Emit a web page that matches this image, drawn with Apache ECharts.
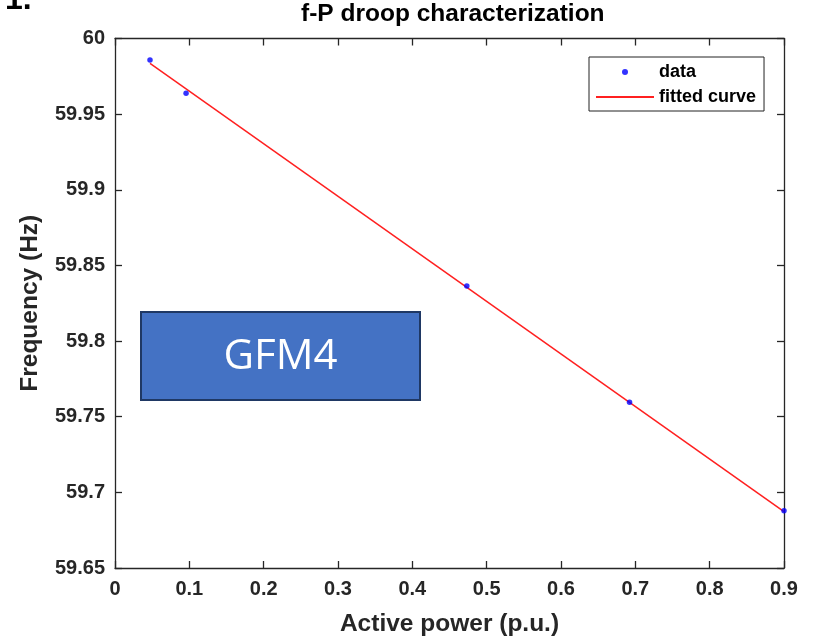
<!DOCTYPE html>
<html>
<head>
<meta charset="utf-8">
<script src="https://cdn.jsdelivr.net/npm/echarts@6/dist/echarts.min.js"></script>
<style>
html,body{margin:0;padding:0;background:#fff;}
#c{width:818px;height:637px;}
</style>
</head>
<body>
<div id="c"></div>
<script>
// Data
const dataX = [0.0471, 0.0956, 0.4733, 0.6922, 0.9];
const dataY = [59.9858, 59.9638, 59.8364, 59.7596, 59.6879];
const fitX = [0.0471, 0.9];
const fitY = [59.9835, 59.6873];
const xTicks = {min: 0, max: 0.9, interval: 0.1};
const yTicks = {min: 59.65, max: 60, interval: 0.05};
const titleText = 'f-P droop characterization';
const xName = 'Active power (p.u.)';
const yName = 'Frequency (Hz)';
const boxLabel = 'GFM4';

const FONT = '"Liberation Sans", Arial, sans-serif';
const AX = '#262626';
const fmt = v => String(+v.toFixed(2));

const chart = echarts.init(document.getElementById('c'), null, {renderer: 'canvas'});
const axisCommon = {
  axisLine: {show: true, onZero: false, lineStyle: {color: AX, width: 1.3}},
  axisTick: {show: true, inside: true, length: 7, lineStyle: {color: AX, width: 1.3}},
  splitLine: {show: false}
};
chart.setOption({
  backgroundColor: '#fff',
  animation: false,
  title: {
    text: titleText, left: 296, top: -3,
    textStyle: {fontFamily: FONT, fontWeight: 'bold', fontSize: 24.5, color: '#000'}
  },
  legend: {
    orient: 'vertical', left: 589, top: 57,
    padding: [6, 8, 5, 6], itemGap: 7,
    itemWidth: 58, itemHeight: 6,
    borderColor: '#222', borderWidth: 1, backgroundColor: '#fff',
    textStyle: {fontFamily: FONT, fontWeight: 'bold', fontSize: 18, color: '#000'},
    data: [{name: 'data'}, {name: 'fitted curve', itemStyle: {opacity: 0}}]
  },
  grid: {left: 115, right: 34, top: 38.5, bottom: 69, containLabel: false, outerBoundsMode: 'none'},
  xAxis: [
    Object.assign({
      type: 'value', position: 'bottom', min: xTicks.min, max: xTicks.max, interval: xTicks.interval,
      name: xName, nameLocation: 'middle', nameGap: 44,
      nameTextStyle: {fontFamily: FONT, fontWeight: 'bold', fontSize: 24.5, color: AX},
      axisLabel: {fontFamily: FONT, fontWeight: 'bold', fontSize: 20, color: AX, margin: 11, formatter: fmt}
    }, axisCommon),
    Object.assign({
      type: 'value', position: 'top', min: xTicks.min, max: xTicks.max, interval: xTicks.interval,
      axisLabel: {show: false}
    }, axisCommon)
  ],
  yAxis: [
    Object.assign({
      type: 'value', position: 'left', min: yTicks.min, max: yTicks.max, interval: yTicks.interval,
      name: yName, nameLocation: 'middle', nameGap: 72,
      nameTextStyle: {fontFamily: FONT, fontWeight: 'bold', fontSize: 24.5, color: AX},
      axisLabel: {fontFamily: FONT, fontWeight: 'bold', fontSize: 20, color: AX, margin: 10, formatter: fmt}
    }, axisCommon),
    Object.assign({
      type: 'value', position: 'right', min: yTicks.min, max: yTicks.max, interval: yTicks.interval,
      axisLabel: {show: false}
    }, axisCommon)
  ],
  series: [
    {
      name: 'fitted curve', type: 'line', xAxisIndex: 0, yAxisIndex: 0,
      data: fitX.map((x, i) => [x, fitY[i]]),
      symbol: 'none', lineStyle: {color: '#ff2020', width: 1.5}, itemStyle: {color: '#ff0000'},
      z: 2
    },
    {
      name: 'data', type: 'scatter', xAxisIndex: 0, yAxisIndex: 0,
      data: dataX.map((x, i) => [x, dataY[i]]),
      symbol: 'circle', symbolSize: 5.5, itemStyle: {color: '#0000ff'},
      z: 3
    }
  ],
  graphic: [
    {
      type: 'text', left: 5, top: -16, z: 10,
      style: {text: '1.', font: 'bold 32px ' + FONT, fill: '#000'}
    },
    {
      type: 'group', left: 140, top: 311, z: 10,
      children: [
        {type: 'rect', shape: {x: 0, y: 0, width: 279, height: 88},
         style: {fill: '#4472C4', stroke: '#1F3864', lineWidth: 2}},
        {type: 'text', x: 139.5, y: 45,
         style: {text: boxLabel, font: '42px "Open Sans", sans-serif', fill: '#fff',
                 textAlign: 'center', textVerticalAlign: 'middle'}}
      ]
    }
  ]
});
</script>
</body>
</html>
